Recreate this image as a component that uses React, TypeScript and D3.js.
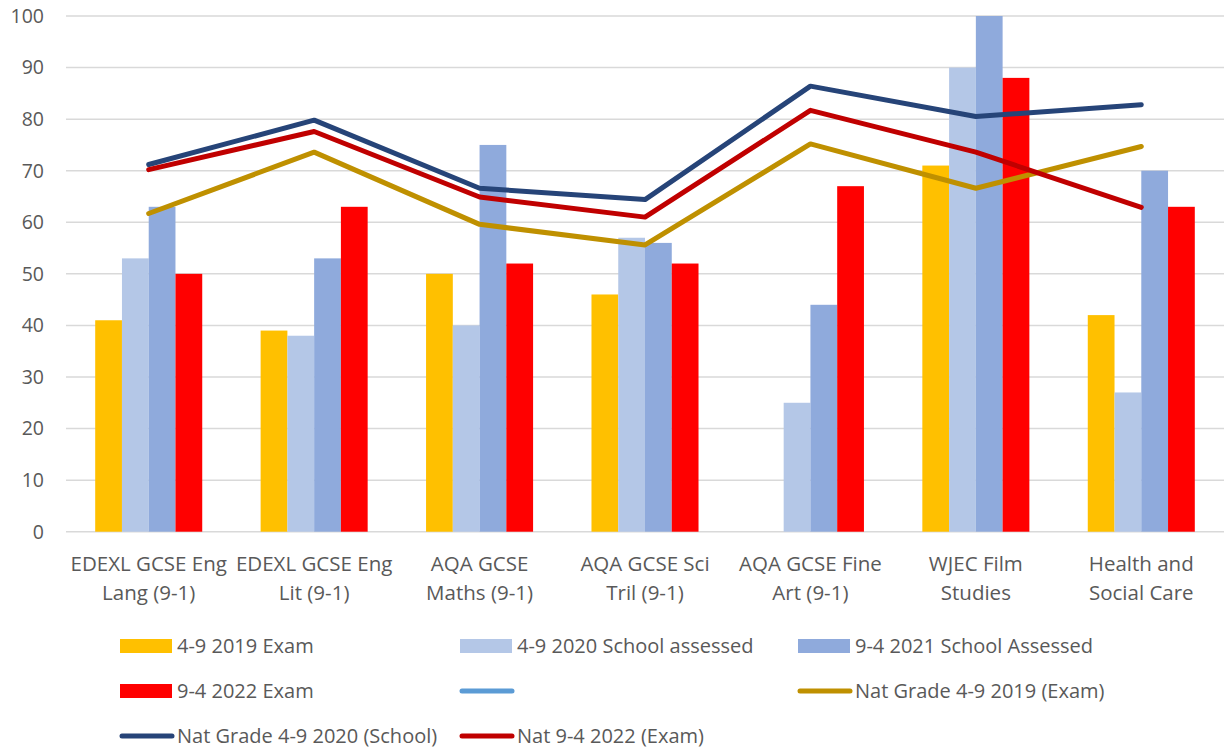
import { useMemo } from "react";
import * as d3 from "d3";

const categories = [
  ["EDEXL GCSE Eng", "Lang (9-1)"],
  ["EDEXL GCSE Eng", "Lit (9-1)"],
  ["AQA GCSE", "Maths (9-1)"],
  ["AQA GCSE Sci", "Tril (9-1)"],
  ["AQA GCSE Fine", "Art (9-1)"],
  ["WJEC Film", "Studies"],
  ["Health and", "Social Care"],
];

const exam2019 = [41, 39, 50, 46, 0, 71, 42];
const school2020 = [53, 38, 40, 57, 25, 90, 27];
const school2021 = [63, 53, 75, 56, 44, 100, 70];
const exam2022 = [50, 63, 52, 52, 67, 88, 63];

const natExam2019 = [61.7, 73.6, 59.6, 55.6, 75.2, 66.6, 74.7];
const natSchool2020 = [71.2, 79.8, 66.6, 64.4, 86.4, 80.5, 82.8];
const natExam2022 = [70.2, 77.6, 64.9, 61.0, 81.7, 73.6, 62.9];

const yTicks = [0, 10, 20, 30, 40, 50, 60, 70, 80, 90, 100];

const barSeries = [
  { name: "4-9 2019 Exam", values: exam2019, color: "#ffc000" },
  { name: "4-9 2020 School assessed", values: school2020, color: "#b4c7e7" },
  { name: "9-4 2021 School Assessed", values: school2021, color: "#8faadc" },
  { name: "9-4 2022 Exam", values: exam2022, color: "#ff0000" },
];

const lineSeries = [
  { name: "Nat Grade 4-9 2019 (Exam)", values: natExam2019, color: "#bf9000" },
  { name: "Nat Grade 4-9 2020 (School)", values: natSchool2020, color: "#264478" },
  { name: "Nat 9-4 2022 (Exam)", values: natExam2022, color: "#c00000" },
];

// legend slots, in reading order (the blank one is an unnamed series)
const legendItems = [
  { name: "4-9 2019 Exam", color: "#ffc000", kind: "bar" },
  { name: "4-9 2020 School assessed", color: "#b4c7e7", kind: "bar" },
  { name: "9-4 2021 School Assessed", color: "#8faadc", kind: "bar" },
  { name: "9-4 2022 Exam", color: "#ff0000", kind: "bar" },
  { name: "", color: "#5b9bd5", kind: "line" },
  { name: "Nat Grade 4-9 2019 (Exam)", color: "#bf9000", kind: "line" },
  { name: "Nat Grade 4-9 2020 (School)", color: "#264478", kind: "line" },
  { name: "Nat 9-4 2022 (Exam)", color: "#c00000", kind: "line" },
];

const W = 1224;
const H = 751;
const FONT = "'Open Sans', sans-serif";

export default function App() {
  const left = 66;
  const right = 1224;
  const top = 16;
  const bottom = 531.7;

  const keys = categories.map((_, i) => String(i));

  const x = useMemo(
    () =>
      d3
        .scaleBand<string>()
        .domain(keys)
        .range([left, right])
        .paddingInner(0.353)
        .paddingOuter(0.1765),
    []
  );
  const x1 = d3
    .scaleBand<number>()
    .domain(barSeries.map((_, i) => i))
    .range([0, x.bandwidth()]);
  const y = d3.scaleLinear().domain([0, 100]).range([bottom, top]);
  const cx = (i: number) => (x(String(i)) ?? 0) + x.bandwidth() / 2;

  const line = d3
    .line<number>()
    .x((_, i) => cx(i))
    .y((d) => y(d));

  const legendCols = [120, 460, 798];
  const legendRows = [646, 691, 736];

  return (
    <svg
      width={W}
      height={H}
      style={{ position: "absolute", left: 0, top: 0, background: "#fff" }}
      fontFamily={FONT}
    >
      {/* gridlines + y labels */}
      {yTicks.map((t) => (
        <g key={t}>
          <line
            x1={left}
            x2={right}
            y1={y(t)}
            y2={y(t)}
            stroke="#d9d9d9"
            strokeWidth={1.5}
          />
          <text
            x={44}
            y={y(t)}
            dy="0.35em"
            textAnchor="end"
            fontSize={19.5}
            fill="#595959"
          >
            {t}
          </text>
        </g>
      ))}

      {/* bars */}
      {barSeries.map((s, si) => (
        <g key={s.name}>
          {s.values.map((v, ci) =>
            v > 0 ? (
              <rect
                key={ci}
                x={(x(String(ci)) ?? 0) + (x1(si) ?? 0)}
                y={y(v)}
                width={x1.bandwidth()}
                height={y(0) - y(v)}
                fill={s.color}
              />
            ) : null
          )}
        </g>
      ))}

      {/* lines */}
      {lineSeries.map((s) => (
        <path
          key={s.name}
          d={line(s.values) || ""}
          fill="none"
          stroke={s.color}
          strokeWidth={5}
          strokeLinecap="round"
          strokeLinejoin="round"
        />
      ))}

      {/* category labels */}
      {categories.map((c, i) => (
        <text key={i} textAnchor="middle" fontSize={20.5} fill="#595959">
          <tspan x={cx(i)} y={571}>
            {c[0]}
          </tspan>
          <tspan x={cx(i)} y={600}>
            {c[1]}
          </tspan>
        </text>
      ))}

      {/* legend */}
      {legendItems.map((it, i) => {
        const lx = legendCols[i % 3];
        const ly = legendRows[Math.floor(i / 3)];
        return (
          <g key={i} transform={`translate(${lx},${ly})`}>
            {it.kind === "bar" ? (
              <rect x={0} y={-7} width={52} height={14} fill={it.color} />
            ) : (
              <line
                x1={2}
                x2={52}
                y1={0}
                y2={0}
                stroke={it.color}
                strokeWidth={5}
                strokeLinecap="round"
              />
            )}
            <text x={57} dy="0.35em" fontSize={20} fill="#595959">
              {it.name}
            </text>
          </g>
        );
      })}
    </svg>
  );
}
